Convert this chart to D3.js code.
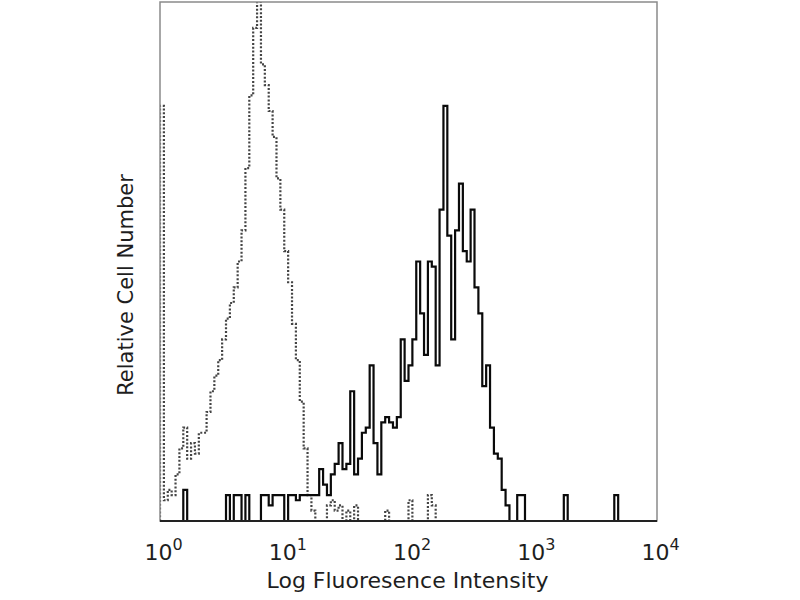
<!DOCTYPE html>
<html>
<head>
<meta charset="utf-8">
<script src="https://cdn.jsdelivr.net/npm/d3@7"></script>
<style>
  body { margin: 0; background: #fff; }
</style>
</head>
<body>
<script>
// 128 log channels over 4 decades (10^0 .. 10^4), counts per channel
var nChannels = 128;
var decadeTicks = [1, 10, 100, 1000, 10000];
var tickExps = ["0", "1", "2", "3", "4"];

// isotype control (dotted)
var isoCounts = [
  80, 4, 6, 5, 9, 14, 18, 12, 15, 13, 17, 17, 21, 25, 28, 31,
  35, 39, 42, 45, 50, 56, 68, 82, 95, 100, 88, 84, 79, 74, 66, 60,
  52, 46, 38, 31, 23, 14, 5, 2, 0, 0, 0, 3, 4, 2, 3, 0,
  2, 0, 3, 0, 0, 0, 0, 0, 0, 0, 2, 0, 0, 0, 0, 0,
  4, 0, 0, 0, 0, 5, 3, 0, 0, 0, 0, 0, 0, 0, 0, 0,
  0, 0, 0, 0, 0, 0, 0, 0, 0, 0, 0, 0, 0, 0, 0, 0,
  0, 0, 0, 0, 0, 0, 0, 0, 0, 0, 0, 0, 0, 0, 0, 0,
  0, 0, 0, 0, 0, 0, 0, 0, 0, 0, 0, 0, 0, 0, 0, 0
];

// stained sample (solid)
var stainCounts = [
  0, 0, 0, 0, 0, 0, 6, 0, 0, 0, 0, 0, 0, 0, 0, 0,
  0, 5, 0, 5, 5, 0, 5, 0, 0, 0, 5, 5, 3, 5, 5, 5,
  0, 5, 5, 4, 5, 5, 5, 5, 5, 10, 7, 5, 9, 11, 15, 10,
  11, 25, 9, 12, 17, 18, 30, 15, 9, 19, 20, 19, 18, 20, 35, 27,
  30, 35, 50, 40, 32, 50, 49, 30, 60, 80, 55, 35, 56, 65, 52, 50,
  60, 45, 40, 26, 30, 18, 13, 12, 6, 3, 0, 0, 5, 5, 0, 0,
  0, 0, 0, 0, 0, 0, 0, 0, 5, 0, 0, 0, 0, 0, 0, 0,
  0, 0, 0, 0, 0, 5, 0, 0, 0, 0, 0, 0, 0, 0, 0, 0
];

var margin = {top: 2, right: 143, bottom: 79, left: 160},
    W = 800, H = 600,
    w = W - margin.left - margin.right,
    h = H - margin.top - margin.bottom,
    font = "'DejaVu Sans', sans-serif",
    col = {text: "#1e1e1e", frame: "#8a8a8a", iso: "#444", stain: "#0a0a0a"};

var svg = d3.select("body").append("svg")
    .attr("width", W)
    .attr("height", H)
  .append("g")
    .attr("transform", "translate(" + margin.left + "," + margin.top + ")");

var x = d3.scaleLog().domain([1, 10000]).range([0, w]);
var y = d3.scaleLinear().domain([0, 100]).range([h, 0]);

// channel i covers 10^(4i/128) .. 10^(4(i+1)/128)
function edge(i) { return Math.pow(10, i * 4 / nChannels); }

function stepPoints(counts) {
    var pts = [[edge(0), 0]];
    counts.forEach(function(c, i) { pts.push([edge(i), c]); });
    pts.push([edge(nChannels), 0]);
    return pts;
}

var line = d3.line()
    .x(function(d) { return x(d[0]); })
    .y(function(d) { return y(d[1]); })
    .curve(d3.curveStepAfter);

svg.append("defs").append("clipPath")
    .attr("id", "clip")
  .append("rect")
    .attr("width", w).attr("height", h + 1);

svg.append("path")
    .datum(stepPoints(isoCounts))
    .attr("clip-path", "url(#clip)")
    .attr("fill", "none")
    .attr("stroke", col.iso)
    .attr("stroke-width", 2.2)
    .attr("stroke-dasharray", "2,1.8")
    .attr("d", line);

svg.append("path")
    .datum(stepPoints(stainCounts))
    .attr("clip-path", "url(#clip)")
    .attr("fill", "none")
    .attr("stroke", col.stain)
    .attr("stroke-width", 2.2)
    .attr("d", line);

// frame
svg.append("rect")
    .attr("x", 0).attr("y", 0)
    .attr("width", w).attr("height", h)
    .attr("fill", "none")
    .attr("stroke", col.frame)
    .attr("stroke-width", 1.5);
svg.append("line")
    .attr("x1", 0).attr("x2", w)
    .attr("y1", h).attr("y2", h)
    .attr("stroke", "#222")
    .attr("stroke-width", 2);

// x axis with 10^n labels
var xAxis = svg.append("g")
    .attr("transform", "translate(0," + h + ")")
    .call(d3.axisBottom(x).tickValues(decadeTicks).tickSize(0).tickFormat(""));
xAxis.select(".domain").remove();
xAxis.selectAll(".tick").each(function(d, i) {
    var t = d3.select(this).append("text")
        .attr("x", -16)
        .attr("y", 39)
        .attr("fill", col.text)
        .attr("font-family", font)
        .attr("font-size", "22px")
        .attr("text-anchor", "start");
    t.append("tspan").text("10");
    t.append("tspan")
        .attr("dy", "-0.6em")
        .attr("font-size", "16px")
        .text(tickExps[i]);
});

// labels
svg.append("text")
    .attr("x", w / 2 - 1)
    .attr("y", h + 67)
    .attr("text-anchor", "middle")
    .attr("fill", col.text)
    .attr("font-family", font)
    .attr("font-size", "22px")
    .text("Log Fluoresence Intensity");

svg.append("text")
    .attr("transform", "rotate(-90)")
    .attr("x", -283)
    .attr("y", -27)
    .attr("text-anchor", "middle")
    .attr("fill", col.text)
    .attr("font-family", font)
    .attr("font-size", "21px")
    .text("Relative Cell Number");
</script>
</body>
</html>
